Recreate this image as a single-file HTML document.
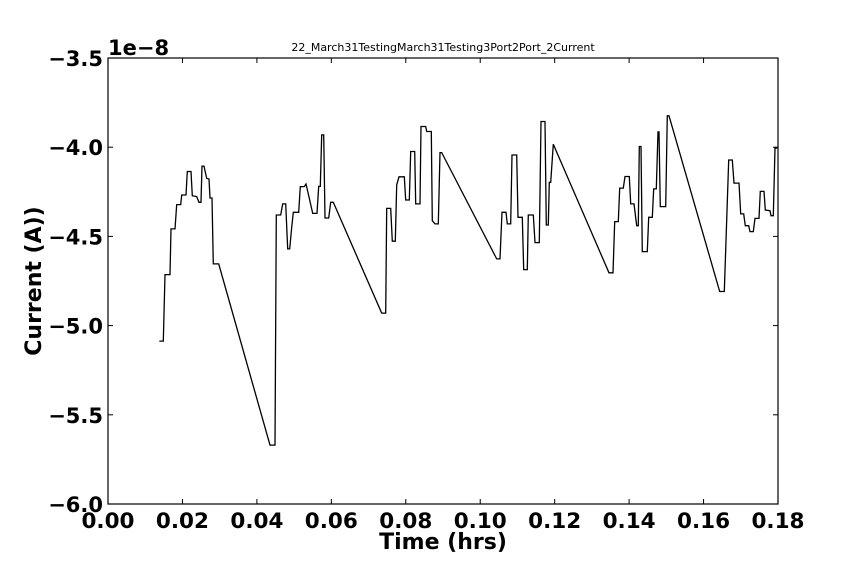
<!DOCTYPE html>
<html><head><meta charset="utf-8"><style>
html,body{margin:0;padding:0;background:#fff;}
svg{display:block;}
text{font-family:"DejaVu Sans","Liberation Sans",sans-serif;}
</style></head><body>
<svg id="chart" width="864" height="576" viewBox="0 0 864 576">
<g id="content"></g>
</svg>
<script>
const tickXs = [0.00,0.02,0.04,0.06,0.08,0.10,0.12,0.14,0.16,0.18];
const tickXLabels = ["0.00","0.02","0.04","0.06","0.08","0.10","0.12","0.14","0.16","0.18"];
const tickYs = [-3.5,-4.0,-4.5,-5.0,-5.5,-6.0];
const tickYLabels = ["\u22123.5","\u22124.0","\u22124.5","\u22125.0","\u22125.5","\u22126.0"];
const times = [0.01378,0.01486,0.01531,0.01666,0.01693,0.0180,0.01846,0.01953,0.0198,0.02096,0.0213,0.0223,0.02265,0.02383,0.02445,0.02499,0.02525,0.02579,0.02652,0.02713,0.0274,0.02794,0.02829,0.02974,
0.04352,0.04487,0.04522,0.0464,0.04693,0.04774,0.04828,0.04882,0.04935,0.04978,0.05123,0.05166,0.05274,0.0532,0.05381,0.055,0.05615,0.0566,0.05704,0.05741,0.05795,0.0583,0.05929,0.05983,0.06053,
0.07353,0.07461,0.07487,0.07595,0.07638,0.07719,0.07756,0.07818,0.0796,0.07998,0.08095,0.08132,0.0824,0.08267,0.08382,0.08409,0.08535,0.08562,0.08686,0.08713,0.08785,0.08874,0.08919,0.08965,
0.10443,0.10531,0.10585,0.10693,0.10727,0.10819,0.10854,0.1098,0.11015,0.11131,0.11168,0.11265,0.11292,0.11426,0.11472,0.11587,0.11633,0.1174,0.11775,0.11829,0.11856,0.11893,0.11963,
0.1346,0.13567,0.13613,0.1371,0.13747,0.13844,0.1389,0.14005,0.14043,0.14131,0.14204,0.14247,0.14274,0.14319,0.14354,0.14489,0.14526,0.14623,0.14661,0.14731,0.14776,0.14803,0.14838,0.14983,0.15026,0.15072,
0.16434,0.16557,0.16676,0.16772,0.16818,0.16952,0.16998,0.17078,0.17122,0.17213,0.17248,0.17337,0.17382,0.1749,0.17524,0.17624,0.17659,0.17785,0.17812,0.17874,0.17919,0.17981];
const currents = [-5.087,-5.087,-4.714,-4.714,-4.458,-4.458,-4.322,-4.322,-4.268,-4.268,-4.136,-4.136,-4.272,-4.277,-4.309,-4.309,-4.106,-4.106,-4.175,-4.178,-4.285,-4.285,-4.654,-4.654,
-5.670,-5.670,-4.380,-4.380,-4.318,-4.318,-4.570,-4.570,-4.449,-4.365,-4.365,-4.221,-4.221,-4.206,-4.262,-4.371,-4.371,-4.220,-4.220,-3.931,-3.931,-4.397,-4.397,-4.309,-4.309,
-4.930,-4.930,-4.343,-4.343,-4.527,-4.527,-4.212,-4.166,-4.166,-4.296,-4.296,-4.024,-4.024,-4.318,-4.318,-3.884,-3.884,-3.912,-3.912,-4.412,-4.430,-4.430,-4.030,-4.030,
-4.626,-4.626,-4.365,-4.365,-4.430,-4.430,-4.044,-4.044,-4.393,-4.393,-4.686,-4.686,-4.380,-4.380,-4.535,-4.535,-3.856,-3.856,-4.436,-4.436,-4.197,-4.197,-3.983,
-4.704,-4.704,-4.417,-4.417,-4.229,-4.229,-4.164,-4.164,-4.318,-4.318,-4.440,-4.440,-3.996,-3.996,-4.585,-4.585,-4.393,-4.393,-4.234,-4.234,-3.914,-3.914,-4.333,-4.333,-3.824,-3.824,
-4.809,-4.809,-4.072,-4.072,-4.201,-4.201,-4.374,-4.374,-4.440,-4.440,-4.473,-4.473,-4.399,-4.399,-4.248,-4.248,-4.352,-4.356,-4.384,-4.384,-4.005,-4.005];

const X0=108,X1=778,Y0=58,Y1=504;
const xs = t => X0 + (t-0)/(0.18)*(X1-X0);
const ys = v => Y0 + (-3.5-v)/2.5*(Y1-Y0);
const NS="http://www.w3.org/2000/svg";
const g=document.getElementById('content');
function mk(tag,attrs,txt){const e=document.createElementNS(NS,tag);for(const k in attrs)e.setAttribute(k,attrs[k]);if(txt!==undefined)e.textContent=txt;g.appendChild(e);return e;}

let d='';
for(let i=0;i<times.length;i++){d+=(i?'L':'M')+xs(times[i]).toFixed(1)+' '+ys(currents[i]).toFixed(1);}
const line=mk('path',{d:d,fill:'none',stroke:'#000','stroke-width':1.3,'stroke-linejoin':'miter'});



const frame=mk('rect',{x:X0,y:Y0,width:X1-X0,height:Y1-Y0,fill:'none',stroke:'#000','stroke-width':1.2});



tickXs.forEach((t,i)=>{
  const x=xs(t);
  mk('line',{x1:x,x2:x,y1:Y1,y2:Y1-5,stroke:'#000'});
  mk('line',{x1:x,x2:x,y1:Y0,y2:Y0+5,stroke:'#000'});
  const lb=mk('text',{x:x,y:Y1+24,'text-anchor':'middle','font-size':21.5,'font-weight':'bold'},tickXLabels[i]);
  
  
});
tickYs.forEach((v,i)=>{
  const y=ys(v);
  mk('line',{x1:X0,x2:X0+5,y1:y,y2:y,stroke:'#000'});
  mk('line',{x1:X1,x2:X1-5,y1:y,y2:y,stroke:'#000'});
  const lb=mk('text',{x:X0-5,y:y+8,'text-anchor':'end','font-size':21,'font-weight':'bold'},tickYLabels[i]);
  
  
});
const off=mk('text',{x:108,y:55,'font-size':21,'font-weight':'bold'},'1e\u22128');


const title=mk('text',{x:443,y:51,'text-anchor':'middle','font-size':11},'22_March31TestingMarch31Testing3Port2Port_2Current');


const xt=mk('text',{x:443,y:549,'text-anchor':'middle','font-size':22,'font-weight':'bold'},'Time (hrs)');


const yt=mk('text',{x:0,y:0,'text-anchor':'middle','font-size':22,'font-weight':'bold',transform:'translate(41,281) rotate(-90)'},'Current (A))');


</script>
</body></html>
